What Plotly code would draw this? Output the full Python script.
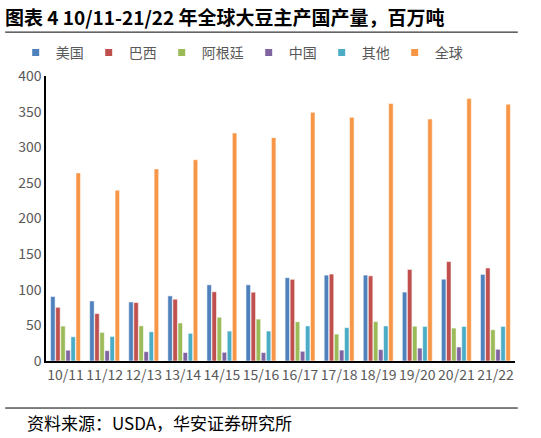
import plotly.graph_objects as go

seasons = ["10/11", "11/12", "12/13", "13/14", "14/15", "15/16",
           "16/17", "17/18", "18/19", "19/20", "20/21", "21/22"]

usa = [90.5, 84.2, 82.8, 91.4, 106.9, 106.9, 116.9, 120.5, 120.5, 96.7, 114.8, 121.5]
brazil = [75.3, 66.5, 82.0, 86.7, 97.2, 96.5, 114.6, 122.0, 119.5, 128.5, 139.5, 130.5]
argentina = [49.0, 40.1, 49.3, 53.4, 61.4, 58.8, 55.0, 37.8, 55.3, 48.8, 46.2, 43.9]
china = [15.1, 14.5, 13.1, 11.9, 12.2, 11.8, 13.6, 15.3, 16.0, 18.1, 19.6, 16.4]
others = [34.0, 34.5, 41.0, 38.8, 42.0, 42.0, 49.2, 46.8, 49.2, 48.5, 48.5, 48.5]
world = [264.0, 239.5, 269.5, 282.5, 320.0, 313.5, 349.0, 342.0, 361.5, 339.6, 368.5, 360.5]

names = ["美国", "巴西", "阿根廷", "中国", "其他", "全球"]
series = [usa, brazil, argentina, china, others, world]
colors = ["#4F81BD", "#C0504D", "#9BBB59", "#8064A2", "#4BACC6", "#F79646"]

font_cjk = "Noto Sans CJK SC"

fig = go.Figure()
for name, vals, color in zip(names, series, colors):
    fig.add_trace(go.Bar(
        x=seasons, y=vals, name=name, legendgroup=name, showlegend=False,
        marker=dict(color=color, line=dict(color="white", width=0.5)),
    ))
# small square legend keys, like the original
for name, color in zip(names, colors):
    fig.add_trace(go.Scatter(
        x=[None], y=[None], mode="markers", name=name, legendgroup=name,
        marker=dict(symbol="square", size=7, color=color),
    ))

fig.update_layout(
    width=541, height=438,
    margin=dict(l=46, r=26, t=76, b=77, autoexpand=False),
    paper_bgcolor="white", plot_bgcolor="white",
    barmode="group", bargap=0.22, bargroupgap=0.12,
    font=dict(family=font_cjk, size=14, color="#595959"),
    showlegend=True,
    title=dict(
        text="<b>图表 4 10/11-21/22 年全球大豆主产国产量，百万吨</b>",
        xref="container", yref="container", x=5 / 541, xanchor="left",
        y=1 - 18 / 438, yanchor="middle",
        font=dict(size=19, color="black", family=font_cjk),
    ),
    legend=dict(
        orientation="h", xref="container", yref="container",
        x=0.029, xanchor="left", y=1 - 53 / 438, yanchor="middle",
        bgcolor="rgba(0,0,0,0)",
        font=dict(size=14, color="#595959"),
        itemwidth=30, traceorder="normal", tracegroupgap=0,
    ),
)

fig.update_yaxes(
    range=[0, 400], dtick=50, showgrid=False, zeroline=False,
    showline=True, linecolor="black", linewidth=1.5,
    ticks="", tickfont=dict(size=14, color="#595959"),
)
fig.update_xaxes(
    showline=True, linecolor="black", linewidth=1.5, tickangle=0,
    ticks="", tickfont=dict(size=14, color="#595959"),
)

# decorative rules + source line
fig.add_shape(type="line", xref="paper", yref="paper",
              x0=-0.087, x1=1.006, y0=1.154, y1=1.154,
              line=dict(color="black", width=1))
fig.add_shape(type="line", xref="paper", yref="paper",
              x0=-0.087, x1=1.006, y0=-0.165, y1=-0.165,
              line=dict(color="black", width=1))
fig.add_annotation(
    text="资料来源：USDA，华安证券研究所",
    xref="paper", yref="paper", x=-0.045, y=-0.2175, xanchor="left", yanchor="middle",
    showarrow=False, font=dict(size=17, color="black", family=font_cjk),
)

# page body has an 8px default margin; drop it so the figure sits at the corner
fig.write_html("out.html", config={"displayModeBar": False},
               post_script="document.body.style.margin='0';")
